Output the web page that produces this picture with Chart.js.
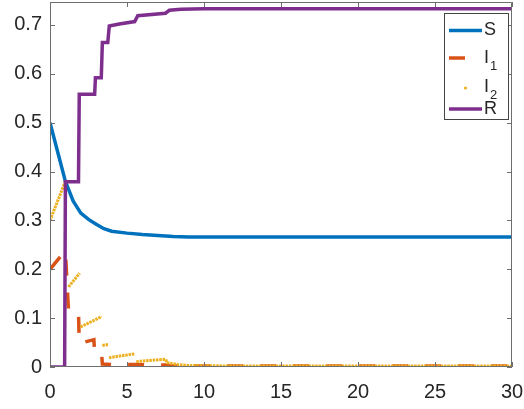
<!DOCTYPE html>
<html lang="en">
<head>
<meta charset="UTF-8">
<script src="https://cdn.jsdelivr.net/npm/chart.js"></script>
<title>S I R</title>
<style>
  body { margin: 0; background: #fff; }
  #wrap { width: 524px; height: 409px; }
</style>
</head>
<body>
<div id="wrap"><canvas id="chart"></canvas></div>
<script>
// axis ticks
const xTicks = [0, 5, 10, 15, 20, 25, 30];
const xTickLabels = ['0', '5', '10', '15', '20', '25', '30'];
const yTicks = [0, 0.1, 0.2, 0.3, 0.4, 0.5, 0.6, 0.7];
const yTickLabels = ['0', '0.1', '0.2', '0.3', '0.4', '0.5', '0.6', '0.7'];

// S
const tS = [0, 0.5, 1, 1.5, 2, 2.5, 3, 3.5, 4, 5, 6, 7, 8, 9, 10, 15, 20, 30];
const S  = [0.5, 0.44, 0.38, 0.34, 0.315, 0.302, 0.292, 0.283, 0.278, 0.274, 0.271, 0.269, 0.267, 0.266, 0.266, 0.266, 0.266, 0.266];

// I1
const tI1 = [0, 1.0, 1.2, 1.85, 1.9, 2.85, 2.9, 3.35, 3.4, 4, 5.5, 7.5, 8, 10, 30];
const I1  = [0.2, 0.238, 0.116, 0.113, 0.048, 0.056, 0.028, 0.028, 0.006, 0.005, 0.005, 0.004, 0.002, 0.002, 0.002];

// I2 (dots, null = break between pieces)
const tI2 = [0, 1.0, 1.1, 1.2, 1.93, 1.95, 1.98, 3.35, 3.37, 3.4, 3.78, 3.8, 3.83, 5.5, 5.55, 5.6, 7.5, 7.6, 8.3, 9, 12, 30];
const I2  = [0.3, 0.38, null, 0.164, 0.192, null, 0.082, 0.103, null, 0.044, 0.046, null, 0.019, 0.027, null, 0.011, 0.016, 0.009, 0.005, 0.003, 0.002, 0.002];

// R
const tR = [0, 0.95, 1.0, 1.85, 1.9, 2.9, 2.95, 3.33, 3.4, 3.75, 3.85, 4.5, 5.5, 5.7, 7.5, 7.75, 8.5, 10, 30];
const R  = [0, 0, 0.379, 0.379, 0.558, 0.558, 0.592, 0.592, 0.664, 0.664, 0.698, 0.702, 0.707, 0.719, 0.724, 0.730, 0.732, 0.733, 0.733];

const legendNames = ['S', 'I', 'I', 'R'];
const legendSubs  = ['', '1', '2', ''];

const font = "'Liberation Sans', Arial, sans-serif";
const textColor = '#262626';
const axisColor = '#6e6e6e';

const series = [
  { t: tS,  v: S,  color: '#0072BD', width: 3.5, dash: [],        order: 4 },
  { t: tI1, v: I1, color: '#D95319', width: 3.5, dash: [16, 17],  order: 3 },
  { t: tI2, v: I2, color: '#EDB120', width: 3,   dash: [2.5, 0.8], order: 2 },
  { t: tR,  v: R,  color: '#7E2F8E', width: 3.5, dash: [],        order: 1 }
];

// box, inward ticks and legend like matlab
const boxPlugin = {
  id: 'box',
  afterDatasetsDraw(chart) {
    const ctx = chart.ctx;
    const a = chart.chartArea;
    const x = chart.scales.x, y = chart.scales.y;
    ctx.save();
    ctx.strokeStyle = axisColor;
    ctx.lineWidth = 1;
    ctx.beginPath();
    ctx.rect(a.left + 0.5, a.top + 0.5, a.right - a.left - 1, a.bottom - a.top - 1);
    xTicks.forEach(v => {
      const px = Math.round(x.getPixelForValue(v)) + 0.5;
      ctx.moveTo(px, a.bottom); ctx.lineTo(px, a.bottom - 5);
      ctx.moveTo(px, a.top); ctx.lineTo(px, a.top + 5);
    });
    yTicks.forEach(v => {
      const py = Math.round(y.getPixelForValue(v)) + 0.5;
      ctx.moveTo(a.left, py); ctx.lineTo(a.left + 5, py);
      ctx.moveTo(a.right, py); ctx.lineTo(a.right - 5, py);
    });
    ctx.stroke();

    // legend
    const lx = 444.5, ly = 13.5, lw = 64, lh = 106;
    ctx.fillStyle = '#fff';
    ctx.fillRect(lx, ly, lw, lh);
    ctx.strokeStyle = '#444';
    ctx.strokeRect(lx, ly, lw, lh);
    const rows = [30.5, 58, 87, 109];
    series.forEach((s, i) => {
      const ry = rows[i];
      ctx.strokeStyle = s.color;
      ctx.fillStyle = s.color;
      if (i === 2) {
        ctx.beginPath();
        ctx.arc(465.5, ry + 1, 1.6, 0, Math.PI * 2);
        ctx.fill();
      } else {
        ctx.lineWidth = s.width;
        ctx.setLineDash(s.dash);
        ctx.beginPath();
        ctx.moveTo(449, ry); ctx.lineTo(482, ry);
        ctx.stroke();
        ctx.setLineDash([]);
      }
      ctx.fillStyle = textColor;
      ctx.textBaseline = 'middle';
      ctx.textAlign = 'left';
      ctx.font = '18px ' + font;
      ctx.fillText(legendNames[i], 484, ry);
      if (legendSubs[i]) {
        const w = ctx.measureText(legendNames[i]).width;
        ctx.font = '13px ' + font;
        ctx.fillText(legendSubs[i], 484 + w + 1, ry + 8);
      }
    });
    ctx.restore();
  }
};

new Chart(document.getElementById('chart'), {
  type: 'line',
  data: {
    datasets: series.map(s => ({
      data: s.t.map((t, i) => ({ x: t, y: s.v[i] })),
      borderColor: s.color,
      borderWidth: s.width,
      borderDash: s.dash,
      borderCapStyle: 'butt',
      pointRadius: 0,
      fill: false,
      spanGaps: false,
      tension: 0,
      order: s.order
    }))
  },
  options: {
    responsive: true,
    maintainAspectRatio: false,
    animation: false,
    layout: { padding: { left: 0, top: 2, right: 12, bottom: 0 } },
    plugins: { legend: { display: false }, tooltip: { enabled: false } },
    scales: {
      x: {
        type: 'linear', min: 0, max: 30,
        grid: { display: false, drawTicks: false },
        border: { display: false },
        afterBuildTicks: s => { s.ticks = xTicks.map(v => ({ value: v })); },
        ticks: {
          padding: 13, maxRotation: 0, autoSkip: false,
          color: textColor, font: { family: font, size: 20 },
          callback: (v, i) => xTickLabels[i]
        },
        afterFit: s => { s.height = 42; s.paddingLeft = 0; s.paddingRight = 0; }
      },
      y: {
        min: 0, max: 0.747,
        grid: { display: false, drawTicks: false },
        border: { display: false },
        afterBuildTicks: s => { s.ticks = yTicks.map(v => ({ value: v })); },
        ticks: {
          padding: 8, autoSkip: false,
          color: textColor, font: { family: font, size: 20 },
          callback: (v, i) => yTickLabels[i]
        },
        afterFit: s => { s.width = 50; s.paddingTop = 0; s.paddingBottom = 0; }
      }
    }
  },
  plugins: [boxPlugin]
});
</script>
</body>
</html>
